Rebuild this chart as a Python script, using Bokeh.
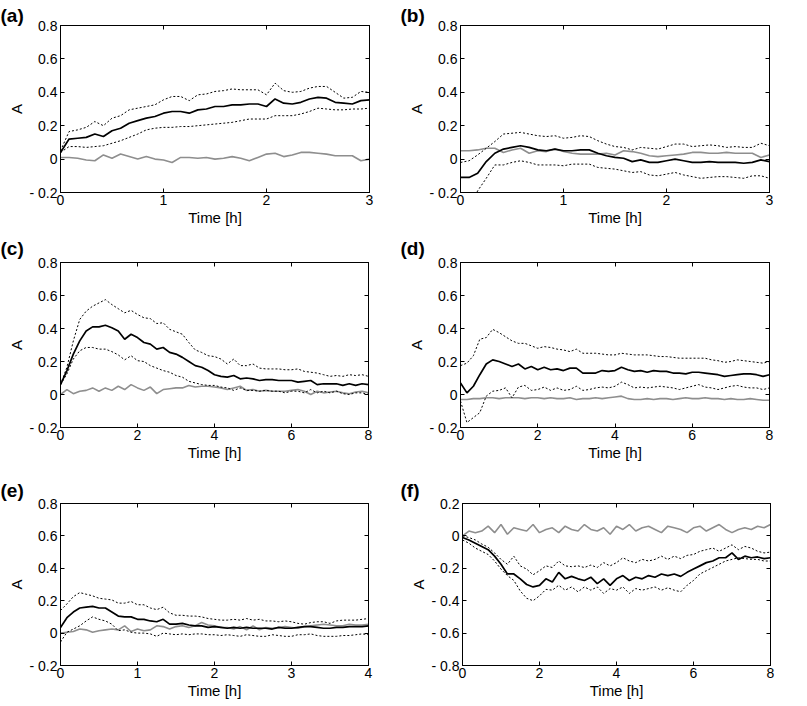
import numpy as np
from bokeh.plotting import figure
from bokeh.layouts import column, row
from bokeh.models import Range1d, FixedTicker, LinearAxis, Title, CustomJSTickFormatter
from bokeh.embed import file_html
from bokeh.resources import INLINE

FONT = "Liberation Sans"

# ---------------- data ----------------
# (a) 0-3 h, 5-min steps
mean_a = [0.04, 0.12, 0.125, 0.13, 0.15, 0.135, 0.17, 0.185, 0.215, 0.23, 0.245, 0.255, 0.275, 0.285, 0.285, 0.275,
          0.295, 0.30, 0.315, 0.315, 0.325, 0.325, 0.33, 0.33, 0.315, 0.36, 0.335, 0.33, 0.34, 0.36, 0.37, 0.365,
          0.34, 0.335, 0.33, 0.35, 0.355]
up_a = [0.05, 0.165, 0.175, 0.19, 0.225, 0.20, 0.245, 0.26, 0.295, 0.305, 0.315, 0.325, 0.355, 0.375, 0.375, 0.35,
        0.385, 0.39, 0.405, 0.41, 0.42, 0.415, 0.415, 0.415, 0.385, 0.455, 0.41, 0.40, 0.405, 0.425, 0.435, 0.435,
        0.40, 0.365, 0.37, 0.405, 0.40]
lo_a = [0.04, 0.075, 0.075, 0.07, 0.075, 0.08, 0.095, 0.11, 0.13, 0.15, 0.175, 0.185, 0.19, 0.19, 0.195, 0.195,
        0.20, 0.205, 0.21, 0.215, 0.22, 0.23, 0.24, 0.24, 0.24, 0.26, 0.26, 0.26, 0.27, 0.285, 0.305, 0.30,
        0.295, 0.295, 0.30, 0.30, 0.305]
ctrl_a = [0.01, 0.01, 0.005, -0.005, -0.01, 0.025, 0.005, 0.03, 0.015, 0.0, 0.015, 0.0, -0.005, -0.02, 0.01, 0.01,
          0.005, 0.01, 0.0, 0.005, 0.015, 0.005, -0.01, 0.01, 0.03, 0.035, 0.015, 0.025, 0.04, 0.04, 0.035, 0.03,
          0.02, 0.02, 0.02, -0.01, 0.0]

# (b) 0-3 h
mean_b = [-0.11, -0.11, -0.085, -0.015, 0.035, 0.06, 0.07, 0.08, 0.07, 0.055, 0.05, 0.06, 0.05, 0.05, 0.055, 0.055,
          0.035, 0.02, 0.01, 0.005, -0.015, -0.005, -0.02, -0.02, -0.01, 0.0, -0.01, -0.02, -0.02, -0.015, -0.02,
          -0.02, -0.02, -0.025, -0.02, -0.005, -0.015]
up_b = [-0.02, -0.01, 0.025, 0.065, 0.105, 0.15, 0.155, 0.16, 0.15, 0.14, 0.135, 0.14, 0.125, 0.13, 0.14, 0.135,
        0.11, 0.09, 0.075, 0.07, 0.055, 0.07, 0.065, 0.06, 0.075, 0.09, 0.09, 0.075, 0.08, 0.085, 0.08, 0.07,
        0.075, 0.07, 0.07, 0.095, 0.08]
lo_b = [-0.36, -0.29, -0.19, -0.115, -0.035, -0.035, -0.02, -0.01, -0.02, -0.035, -0.035, -0.035, -0.04, -0.03,
        -0.03, -0.03, -0.05, -0.055, -0.06, -0.07, -0.08, -0.075, -0.095, -0.1, -0.09, -0.08, -0.095, -0.105,
        -0.115, -0.11, -0.105, -0.105, -0.11, -0.115, -0.1, -0.1, -0.115]
ctrl_b = [0.05, 0.05, 0.055, 0.065, 0.065, 0.04, 0.055, 0.065, 0.035, 0.05, 0.045, 0.06, 0.045, 0.035, 0.03, 0.03,
          0.03, 0.035, 0.025, 0.05, 0.045, 0.035, 0.02, 0.015, 0.02, 0.025, 0.03, 0.04, 0.04, 0.035, 0.035, 0.04,
          0.035, 0.035, 0.035, 0.01, 0.025]

# (c) 0-8 h, 10-min steps
mean_c = [0.06, 0.145, 0.245, 0.325, 0.385, 0.41, 0.41, 0.42, 0.405, 0.385,
          0.335, 0.365, 0.345, 0.315, 0.305, 0.275, 0.285, 0.255, 0.245, 0.225,
          0.20, 0.175, 0.165, 0.145, 0.12, 0.11, 0.105, 0.115, 0.095, 0.10,
          0.095, 0.085, 0.09, 0.09, 0.085, 0.085, 0.085, 0.075, 0.08, 0.085,
          0.06, 0.065, 0.065, 0.065, 0.055, 0.065, 0.055, 0.065, 0.06]
up_c = [0.06, 0.165, 0.325, 0.455, 0.505, 0.535, 0.555, 0.575, 0.545, 0.52,
        0.495, 0.51, 0.485, 0.465, 0.46, 0.43, 0.435, 0.395, 0.38, 0.365,
        0.315, 0.27, 0.255, 0.235, 0.23, 0.215, 0.185, 0.215, 0.175, 0.175,
        0.185, 0.16, 0.155, 0.155, 0.155, 0.15, 0.15, 0.155, 0.14, 0.135,
        0.13, 0.12, 0.11, 0.115, 0.11, 0.12, 0.115, 0.12, 0.11]
lo_c = [0.06, 0.125, 0.215, 0.265, 0.285, 0.285, 0.275, 0.275, 0.26, 0.24,
        0.21, 0.235, 0.205, 0.20, 0.175, 0.16, 0.145, 0.135, 0.115, 0.105,
        0.08, 0.07, 0.06, 0.055, 0.055, 0.045, 0.04, 0.025, 0.04, 0.025,
        0.025, 0.02, 0.025, 0.02, 0.02, 0.01, 0.02, 0.02, 0.01, 0.03,
        0.01, 0.02, 0.01, 0.02, 0.005, 0.0, 0.01, 0.01, 0.0]
ctrl_c = [0.0, 0.03, 0.005, 0.02, 0.025, 0.04, 0.02, 0.04, 0.025, 0.05,
          0.03, 0.06, 0.04, 0.025, 0.045, 0.005, 0.03, 0.035, 0.04, 0.04,
          0.055, 0.045, 0.05, 0.05, 0.045, 0.04, 0.03, 0.04, 0.05, 0.025,
          0.03, 0.02, 0.025, 0.02, 0.02, 0.02, 0.025, 0.03, 0.02, 0.0,
          0.02, 0.01, 0.015, 0.02, 0.01, 0.005, 0.015, 0.02, 0.01]

# (d) 0-8 h
mean_d = [0.07, 0.01, 0.05, 0.12, 0.185, 0.21, 0.20, 0.185, 0.17, 0.185,
          0.155, 0.17, 0.15, 0.165, 0.15, 0.155, 0.145, 0.16, 0.16, 0.13,
          0.13, 0.13, 0.145, 0.14, 0.145, 0.165, 0.15, 0.14, 0.145, 0.135,
          0.145, 0.14, 0.14, 0.13, 0.13, 0.125, 0.135, 0.135, 0.13, 0.125,
          0.12, 0.11, 0.115, 0.12, 0.125, 0.125, 0.12, 0.11, 0.12]
up_d = [0.175, 0.19, 0.235, 0.335, 0.345, 0.395, 0.375, 0.35, 0.325, 0.31,
        0.31, 0.295, 0.28, 0.29, 0.285, 0.275, 0.27, 0.26, 0.275, 0.25,
        0.25, 0.25, 0.245, 0.24, 0.24, 0.25, 0.245, 0.24, 0.24, 0.24,
        0.235, 0.23, 0.23, 0.225, 0.22, 0.22, 0.22, 0.22, 0.22, 0.21,
        0.205, 0.195, 0.2, 0.21, 0.205, 0.2, 0.195, 0.19, 0.2]
lo_d = [-0.04, -0.17, -0.14, -0.11, -0.01, 0.02, 0.025, 0.04, -0.02, 0.045,
        0.055, 0.025, 0.03, 0.045, 0.025, 0.04, 0.025, 0.03, 0.05, 0.025,
        0.03, 0.04, 0.045, 0.04, 0.05, 0.075, 0.06, 0.04, 0.045, 0.04,
        0.045, 0.05, 0.045, 0.04, 0.03, 0.04, 0.05, 0.06, 0.045, 0.04,
        0.03, 0.04, 0.05, 0.055, 0.045, 0.04, 0.04, 0.03, 0.04]
ctrl_d = [-0.03, -0.03, -0.025, -0.025, -0.02, -0.02, -0.025, -0.02, -0.02, -0.02,
          -0.025, -0.02, -0.02, -0.025, -0.02, -0.025, -0.025, -0.02, -0.03, -0.025,
          -0.025, -0.02, -0.025, -0.02, -0.015, -0.01, -0.025, -0.03, -0.03, -0.025,
          -0.03, -0.025, -0.025, -0.03, -0.025, -0.02, -0.025, -0.025, -0.02, -0.025,
          -0.025, -0.03, -0.025, -0.03, -0.03, -0.025, -0.03, -0.035, -0.035]

# (e) 0-4 h, 5-min steps
mean_e = [0.035, 0.095, 0.13, 0.155, 0.16, 0.165, 0.155, 0.155, 0.13, 0.105,
          0.10, 0.10, 0.085, 0.085, 0.075, 0.07, 0.085, 0.055, 0.055, 0.06,
          0.05, 0.045, 0.045, 0.035, 0.04, 0.035, 0.03, 0.035, 0.03, 0.035,
          0.03, 0.03, 0.03, 0.025, 0.035, 0.03, 0.03, 0.035, 0.04, 0.04,
          0.035, 0.03, 0.03, 0.035, 0.035, 0.04, 0.04, 0.04, 0.045]
up_e = [0.14, 0.18, 0.225, 0.25, 0.24, 0.23, 0.215, 0.21, 0.205, 0.185,
        0.185, 0.195, 0.175, 0.175, 0.155, 0.145, 0.16, 0.125, 0.11, 0.11,
        0.105, 0.105, 0.10, 0.09, 0.085, 0.08, 0.08, 0.085, 0.08, 0.09,
        0.08, 0.085, 0.075, 0.075, 0.07, 0.075, 0.07, 0.06, 0.055, 0.065,
        0.07, 0.07, 0.06, 0.075, 0.08, 0.08, 0.08, 0.085, 0.09]
lo_e = [-0.055, 0.005, 0.025, 0.045, 0.075, 0.10, 0.085, 0.075, 0.055, 0.015,
        0.02, 0.005, 0.0, 0.0, -0.005, -0.02, 0.0, -0.005, -0.01, -0.005,
        -0.01, -0.005, -0.005, -0.01, -0.01, -0.015, -0.01, -0.015, -0.02, -0.01,
        -0.015, -0.02, -0.02, -0.01, -0.015, -0.02, -0.02, -0.01, -0.01, -0.005,
        -0.015, -0.02, -0.02, -0.02, -0.015, -0.015, -0.01, -0.005, -0.01]
ctrl_e = [0.0, 0.005, 0.01, 0.025, 0.02, 0.005, 0.015, 0.02, 0.025, 0.02,
          0.045, 0.01, 0.025, 0.015, 0.02, 0.045, 0.04, 0.025, 0.04, 0.045,
          0.035, 0.045, 0.065, 0.05, 0.045, 0.035, 0.035, 0.025, 0.04, 0.02,
          0.045, 0.02, 0.035, 0.03, 0.035, 0.04, 0.035, 0.03, 0.04, 0.045,
          0.05, 0.055, 0.05, 0.045, 0.045, 0.055, 0.05, 0.05, 0.055]

# (f) 0-8 h
mean_f = [-0.01, -0.025, -0.045, -0.065, -0.085, -0.125, -0.175, -0.235, -0.235, -0.265,
          -0.30, -0.315, -0.305, -0.265, -0.285, -0.225, -0.265, -0.25, -0.265, -0.275,
          -0.255, -0.295, -0.265, -0.305, -0.265, -0.245, -0.275, -0.255, -0.265, -0.245,
          -0.255, -0.235, -0.245, -0.235, -0.25, -0.225, -0.205, -0.185, -0.165, -0.155,
          -0.135, -0.135, -0.105, -0.145, -0.125, -0.135, -0.13, -0.14, -0.135]
up_f = [0.0, -0.01, -0.025, -0.05, -0.07, -0.105, -0.145, -0.175, -0.125, -0.185,
        -0.205, -0.24, -0.215, -0.185, -0.195, -0.155, -0.185, -0.19, -0.185, -0.195,
        -0.18, -0.195, -0.165, -0.185, -0.165, -0.135, -0.155, -0.165, -0.145, -0.155,
        -0.145, -0.125, -0.145, -0.125, -0.14, -0.12, -0.115, -0.095, -0.085, -0.075,
        -0.095, -0.075, -0.055, -0.085, -0.065, -0.075, -0.095, -0.105, -0.10]
lo_f = [-0.025, -0.045, -0.075, -0.095, -0.115, -0.155, -0.205, -0.245, -0.275, -0.34,
        -0.385, -0.40, -0.37, -0.33, -0.335, -0.305, -0.335, -0.315, -0.345, -0.315,
        -0.335, -0.315, -0.355, -0.325, -0.335, -0.315, -0.355, -0.325, -0.335, -0.325,
        -0.315, -0.335, -0.32, -0.335, -0.345, -0.305, -0.275, -0.235, -0.215, -0.195,
        -0.175, -0.155, -0.145, -0.135, -0.14, -0.145, -0.145, -0.155, -0.155]
ctrl_f = [0.0, 0.03, 0.02, 0.03, 0.06, 0.02, 0.07, 0.01, 0.05, 0.04,
          0.03, 0.07, 0.02, 0.04, 0.05, 0.02, 0.06, 0.04, 0.03, 0.07,
          0.04, 0.03, 0.05, 0.01, 0.06, 0.04, 0.07, 0.03, 0.05, 0.06,
          0.04, 0.02, 0.06, 0.05, 0.04, 0.02, 0.05, 0.06, 0.03, 0.05,
          0.07, 0.04, 0.02, 0.04, 0.05, 0.04, 0.06, 0.05, 0.07]

panel_labels = ["(a)", "(b)", "(c)", "(d)", "(e)", "(f)"]
x_max = [3, 3, 8, 8, 4, 8]
x_ticks = [[0, 1, 2, 3], [0, 1, 2, 3], [0, 2, 4, 6, 8], [0, 2, 4, 6, 8], [0, 1, 2, 3, 4], [0, 2, 4, 6, 8]]
y_lims = [(-0.2, 0.8)] * 5 + [(-0.8, 0.2)]
y_ticks = [[-0.2, 0, 0.2, 0.4, 0.6, 0.8]] * 5 + [[-0.8, -0.6, -0.4, -0.2, 0, 0.2]]
x_title = "Time [h]"
y_title = "A"

CTRL_COLOR = "#8e8e8e"

YFMT = """
if (Math.abs(tick) < 1e-9) { return "0"; }
if (tick < 0) { return "- " + Math.abs(tick).toFixed(1); }
return tick.toFixed(1);
"""


def style_axis(ax, ticks, main=True):
    ax.ticker = FixedTicker(ticks=ticks)
    ax.major_tick_in = 4
    ax.major_tick_out = 0
    ax.minor_tick_line_color = None
    ax.axis_line_color = "black"
    ax.major_tick_line_color = "black"
    ax.major_label_text_font = FONT
    ax.major_label_text_color = "black"
    if not main:
        ax.formatter = CustomJSTickFormatter(code="return '';")
        ax.major_label_text_font_size = "1px"
        ax.major_label_standoff = 0


def make_panel(i, mean, up, lo, ctrl, width, height, bl, br, bt, bb, lab_standoff):
    p = figure(width=width, height=height,
               x_range=Range1d(0, x_max[i]), y_range=Range1d(*y_lims[i]),
               output_backend="svg", toolbar_location=None,
               min_border_left=bl, min_border_right=br, min_border_top=bt, min_border_bottom=bb)
    p.grid.visible = False
    p.outline_line_color = "black"
    p.outline_line_width = 1
    p.background_fill_color = "white"
    p.border_fill_color = "white"

    p.title = Title(text=panel_labels[i], align="left", offset=-bl, standoff=lab_standoff,
                    text_font=FONT, text_font_style="bold", text_font_size="19px",
                    text_color="black")

    n = len(mean)
    t = np.linspace(0, x_max[i], n)
    p.line(t, ctrl, line_color=CTRL_COLOR, line_width=1.6)
    p.line(t, up, line_color="black", line_width=1, line_dash="2 2")
    p.line(t, lo, line_color="black", line_width=1, line_dash="2 2")
    p.line(t, mean, line_color="black", line_width=1.7)

    xa = p.xaxis[0]
    style_axis(xa, x_ticks[i])
    xa.major_label_text_font_size = "14px"
    xa.major_label_standoff = 2
    xa.axis_label = x_title
    xa.axis_label_text_font = FONT
    xa.axis_label_text_font_size = "15px"
    xa.axis_label_text_font_style = "normal"
    xa.axis_label_text_color = "black"
    xa.axis_label_standoff = 1

    ya = p.yaxis[0]
    style_axis(ya, y_ticks[i])
    ya.formatter = CustomJSTickFormatter(code=YFMT)
    ya.major_label_text_font_size = "14px"
    ya.major_label_standoff = 3
    ya.axis_label = y_title
    ya.axis_label_text_font = FONT
    ya.axis_label_text_font_size = "15px"
    ya.axis_label_text_font_style = "normal"
    ya.axis_label_text_color = "black"
    ya.axis_label_standoff = 1

    top = LinearAxis()
    style_axis(top, x_ticks[i], main=False)
    p.add_layout(top, "above")
    right = LinearAxis()
    style_axis(right, y_ticks[i], main=False)
    p.add_layout(right, "right")
    return p


pa = make_panel(0, mean_a, up_a, lo_a, ctrl_a, 400, 230, 60, 31, 25, 38, 0)
pb = make_panel(1, mean_b, up_b, lo_b, ctrl_b, 399, 230, 60, 30, 25, 38, 0)
pc = make_panel(2, mean_c, up_c, lo_c, ctrl_c, 400, 237, 60, 32, 32, 40, 8)
pd = make_panel(3, mean_d, up_d, lo_d, ctrl_d, 399, 237, 60, 30, 32, 40, 8)
pe = make_panel(4, mean_e, up_e, lo_e, ctrl_e, 400, 234, 60, 32, 36, 32, 5)
pf = make_panel(5, mean_f, up_f, lo_f, ctrl_f, 399, 234, 62, 29, 36, 32, 5)

layout = column(row(pa, pb), row(pc, pd), row(pe, pf))

open("out.html", "w").write(file_html(layout, INLINE))
